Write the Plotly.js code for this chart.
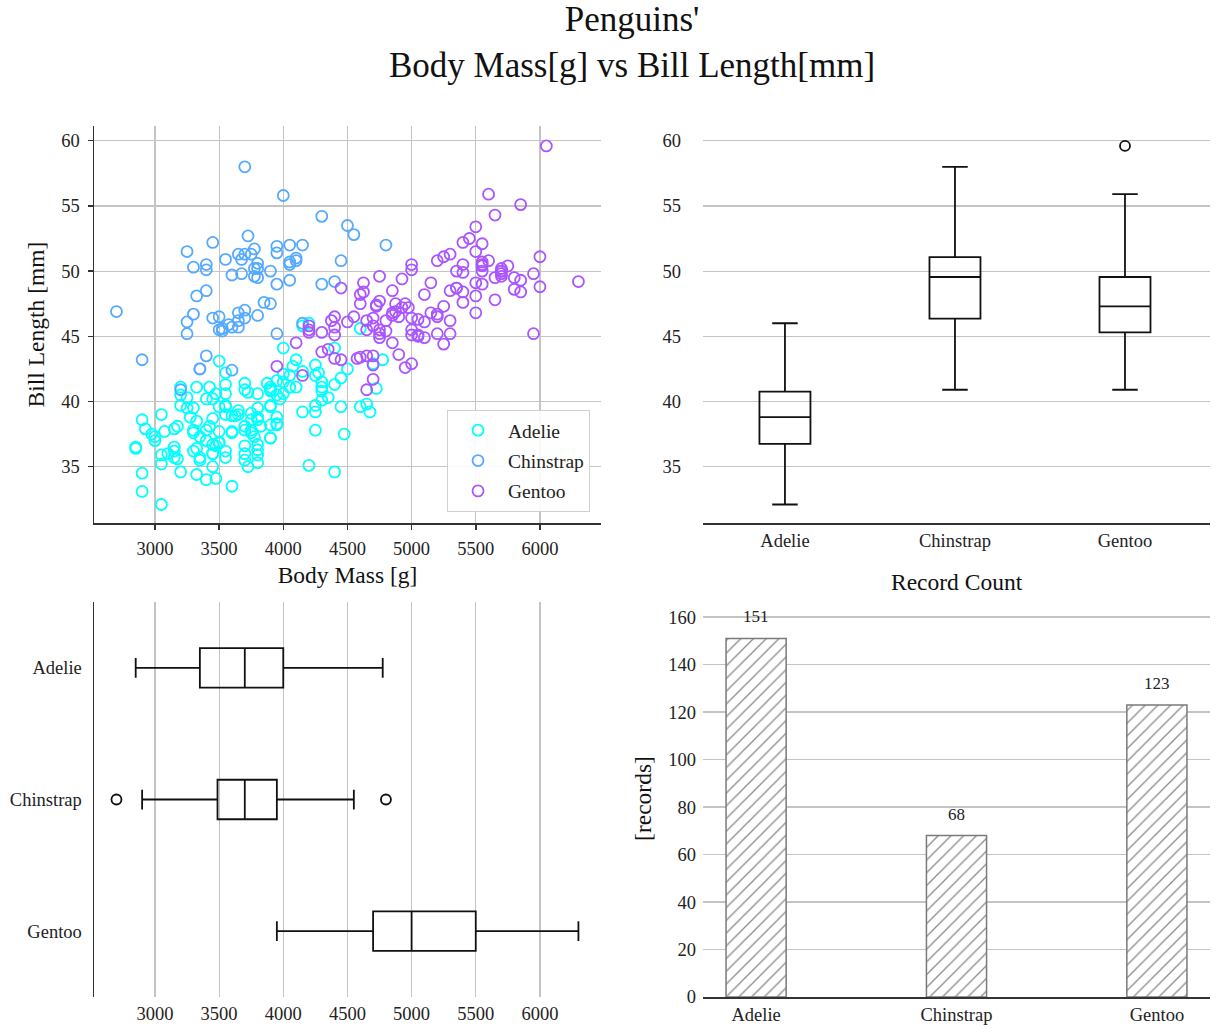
<!DOCTYPE html>
<html>
<head>
<meta charset="utf-8">
<script src="https://cdn.plot.ly/plotly-3.0.1.min.js"></script>
<style>html,body{margin:0;padding:0;background:#fff;}#chart{width:1216px;height:1032px;}</style>
</head>
<body>
<div id="chart"></div>
<script>
// ---------- DATA ----------
const species = ['Adelie', 'Chinstrap', 'Gentoo'];

const adelieMass = [3750,3800,3250,3450,3650,3625,4675,3475,4250,3300,3700,3200,3800,4400,3700,3450,4500,3325,4200,3400,
  3600,3800,3950,3800,3800,3550,3200,3150,3950,3250,3900,3300,3900,3325,4150,3950,3550,3300,4650,3150,
  3900,3100,4400,3000,4600,3425,2975,3450,4150,3500,4300,3450,4050,2900,3700,3550,3800,2850,3750,3150,
  4400,3600,4050,2850,3950,3350,4100,3050,4450,3600,3900,3550,4150,3700,4250,3700,3900,3550,4000,3200,
  4700,3800,4200,3350,3550,3800,3500,3950,3600,3550,4300,3400,4450,3300,4300,3700,4350,2900,4100,3725,
  4725,3075,4250,2925,3550,3750,3900,3175,4775,3825,4600,3200,4275,3900,4075,2900,3775,3350,3325,3150,
  3500,3450,3875,3050,4000,3275,4300,3050,4000,3325,3500,3500,4475,3425,3900,3175,3975,3400,4250,3400,
  3475,3050,3725,3000,3650,4250,3475,3450,3750,3700,4000];
const adelieBill = [39.1,39.5,40.3,36.7,39.3,38.9,39.2,34.1,42.0,37.8,37.8,41.1,38.6,34.6,36.6,38.7,42.5,34.4,46.0,37.8,
  37.7,35.9,38.2,38.8,35.3,40.6,40.5,37.9,40.5,39.5,37.2,39.5,40.9,36.4,39.2,38.8,42.2,37.6,39.8,36.5,
  40.8,36.0,44.1,37.0,39.6,41.1,37.5,36.0,42.3,39.6,40.1,35.0,42.0,34.5,41.4,39.0,40.6,36.5,37.6,35.7,
  41.3,37.6,41.1,36.4,41.6,35.5,41.1,35.9,41.8,33.5,39.7,39.6,45.8,35.5,42.8,40.9,37.2,36.2,42.1,34.6,
  42.9,36.7,35.1,37.3,41.3,36.3,36.9,38.3,38.9,35.7,41.1,34.0,39.6,36.2,40.8,38.1,40.3,33.1,43.2,35.0,
  41.0,37.7,37.8,37.9,39.7,38.6,38.2,38.1,43.2,38.1,45.6,39.7,42.2,39.6,42.7,38.6,37.3,35.7,41.1,36.2,
  37.7,40.2,41.4,35.2,40.6,38.8,41.5,39.0,44.1,38.5,43.1,36.8,37.5,38.1,41.1,35.6,40.2,37.0,39.7,40.2,
  40.6,32.1,40.7,37.3,39.0,39.2,36.6,36.0,37.8,36.0,41.5];

const chinstrapMass = [3500,3900,3650,3525,3725,3950,3250,3750,4150,3700,3800,3775,3700,4050,3575,4050,3300,3700,3450,4400,
  3600,3400,2900,3800,3300,4150,3400,3800,3700,4550,3200,4300,3350,4100,3600,3900,3850,4800,2700,4500,
  3950,3650,3550,3500,3675,4450,3400,4300,3250,3675,3325,3950,3600,4050,3350,3450,3250,4050,3800,3525,
  3950,3650,3650,4000,3400,3775,4100,3775];
const chinstrapBill = [46.5,50.0,51.3,45.4,52.7,45.2,46.1,51.3,46.0,51.3,46.6,51.7,47.0,52.0,45.9,50.5,50.3,58.0,46.4,49.2,
  42.4,48.5,43.2,50.6,46.7,52.0,50.5,49.5,46.4,52.8,40.9,54.2,42.5,51.0,49.7,47.5,47.6,52.0,46.9,53.5,
  49.0,46.2,50.9,45.5,50.9,50.8,50.1,49.0,51.5,49.8,48.1,51.4,45.7,50.7,42.5,52.2,45.2,49.3,50.2,45.6,
  51.9,46.8,45.7,55.8,43.5,49.6,50.8,50.2];

const gentooMass = [4500,5700,4450,5700,5400,4550,4800,5200,4400,5150,4650,5550,4650,5850,4200,5850,4150,6300,4800,5350,
  5700,5000,4400,5050,5000,5100,4100,5650,4600,5550,5250,4700,5050,6050,5150,5400,4950,5250,4350,5350,
  3950,5700,4300,4750,5550,4900,4200,5400,5100,5300,4850,5300,4400,5000,4900,5050,4300,5000,4450,5550,
  4200,5300,4400,5650,4700,5700,4650,5800,4700,5550,4750,5000,5100,5200,4700,5800,4600,6000,4750,5950,
  4625,5450,4725,5350,4750,5600,4600,5300,4875,5550,4950,5400,4750,5650,4850,5200,4925,4875,4625,5250,
  4850,5600,4975,5500,4725,5500,4700,5500,4575,5500,5000,5950,4650,5500,4375,5850,6000,4925,4850,5750,
  5200,5400];
const gentooBill = [46.1,50.0,48.7,50.0,47.6,46.5,45.4,46.7,43.3,46.8,40.9,49.0,45.5,48.4,45.8,49.3,42.0,49.2,46.2,48.7,
  50.2,45.1,46.5,46.3,42.9,46.1,44.5,47.8,48.2,50.0,47.3,42.8,45.1,59.6,49.1,48.4,42.6,44.4,44.0,48.7,
  42.7,49.6,45.3,49.6,50.5,43.6,45.5,50.5,44.9,45.2,46.6,48.5,45.1,50.1,46.5,45.0,43.8,45.5,43.2,50.4,
  45.3,46.2,45.7,54.3,45.8,49.8,46.2,49.5,43.5,50.7,47.7,46.4,48.2,46.5,46.4,48.6,47.5,51.1,45.2,45.2,
  49.1,52.5,47.4,50.0,44.9,50.8,43.4,51.3,47.5,52.1,47.5,52.2,45.5,49.5,44.5,50.8,49.4,46.9,48.4,51.1,
  48.5,55.9,47.2,49.1,47.3,46.8,41.7,53.4,43.3,48.1,50.5,49.8,43.5,51.5,46.2,55.1,48.8,47.2,46.8,50.4,
  45.2,49.9];

// Bill length box statistics (top right)
const billLow = [32.1, 40.9, 40.9];
const billQ1 = [36.75, 46.35, 45.3];
const billMedian = [38.8, 49.55, 47.3];
const billQ3 = [40.75, 51.08, 49.55];
const billHigh = [46.0, 58.0, 55.9];
const billOutlierSpecies = ['Gentoo'];
const billOutliers = [59.6];

// Body mass box statistics (bottom left)
const massLow = [2850, 2900, 3950];
const massQ1 = [3350, 3487.5, 4700];
const massMedian = [3700, 3700, 5000];
const massQ3 = [4000, 3950, 5500];
const massHigh = [4775, 4550, 6300];
const massOutlierSpecies = ['Chinstrap', 'Chinstrap'];
const massOutliers = [2700, 4800];

// Record counts (bottom right)
const recordCounts = [151, 68, 123];

const massTicks = [3000, 3500, 4000, 4500, 5000, 5500, 6000];
const billTicks = [35, 40, 45, 50, 55, 60];
const countTicks = [0, 20, 40, 60, 80, 100, 120, 140, 160];

// ---------- STYLE ----------
const W = 1216, H = 1032;
const FONT = '"Liberation Serif", "Times New Roman", serif';
const colors = {Adelie: '#00ffff', Chinstrap: '#55aaff', Gentoo: '#aa55ff'};
const gridC = '#c4c4c4';
const spineC = '#333333';
const hx = (a, b) => [a / W, b / W];
const vy = (top, bottom) => [1 - bottom / H, 1 - top / H];

function scat(name, xs, ys) {
  return {
    type: 'scatter', mode: 'markers', name: name, x: xs, y: ys,
    xaxis: 'x', yaxis: 'y', legendgroup: name,
    marker: {symbol: 'circle-open', size: 11, color: colors[name], line: {width: 1.8, color: colors[name]}},
    hoverinfo: 'skip'
  };
}

const boxLine = {color: '#111', width: 1.8};

const traces = [
  scat('Adelie', adelieMass, adelieBill),
  scat('Chinstrap', chinstrapMass, chinstrapBill),
  scat('Gentoo', gentooMass, gentooBill),
  {
    type: 'box', x: species, q1: billQ1, median: billMedian, q3: billQ3,
    lowerfence: billLow, upperfence: billHigh, boxpoints: false,
    width: 0.3, whiskerwidth: 0.5, line: boxLine, fillcolor: 'rgba(255,255,255,0)',
    xaxis: 'x2', yaxis: 'y2', showlegend: false, hoverinfo: 'skip'
  },
  {
    type: 'scatter', mode: 'markers', x: billOutlierSpecies, y: billOutliers,
    xaxis: 'x2', yaxis: 'y2', showlegend: false, hoverinfo: 'skip',
    marker: {symbol: 'circle-open', size: 10, color: '#111', line: {width: 1.8, color: '#111'}}
  },
  {
    type: 'box', orientation: 'h', y: species, q1: massQ1, median: massMedian, q3: massQ3,
    lowerfence: massLow, upperfence: massHigh, boxpoints: false,
    width: 0.3, whiskerwidth: 0.5, line: boxLine, fillcolor: 'rgba(255,255,255,0)',
    xaxis: 'x3', yaxis: 'y3', showlegend: false, hoverinfo: 'skip'
  },
  {
    type: 'scatter', mode: 'markers', x: massOutliers, y: massOutlierSpecies,
    xaxis: 'x3', yaxis: 'y3', showlegend: false, hoverinfo: 'skip',
    marker: {symbol: 'circle-open', size: 10, color: '#111', line: {width: 1.8, color: '#111'}}
  },
  {
    type: 'bar', x: species, y: recordCounts, width: 0.3,
    xaxis: 'x4', yaxis: 'y4', showlegend: false, hoverinfo: 'skip',
    marker: {color: 'white', line: {color: '#7a7a7a', width: 1.5},
      pattern: {shape: '/', fgcolor: '#8a8a8a', bgcolor: 'white', size: 9, solidity: 0.14}}
  }
];

const tickFont = {family: FONT, size: 18.5, color: '#222'};
const titleFont = {family: FONT, size: 23.5, color: '#111'};

const barLabels = species.map((s, i) => ({
  x: s, y: recordCounts[i], xref: 'x4', yref: 'y4', text: String(recordCounts[i]),
  showarrow: false, yanchor: 'bottom', yshift: 10, font: {family: FONT, size: 17, color: '#222'}
}));

const layout = {
  width: W, height: H,
  margin: {l: 0, r: 0, t: 0, b: 0},
  paper_bgcolor: 'white', plot_bgcolor: 'white',
  font: {family: FONT, color: '#222'},
  title: {
    text: "Penguins'<br>Body Mass[g] vs Bill Length[mm]",
    font: {family: FONT, size: 35, color: '#111'},
    x: 632 / W, xanchor: 'center', xref: 'paper',
    y: 1 - 31 / H, yanchor: 'top', yref: 'container'
  },
  showlegend: true,
  legend: {
    x: 590 / W, xanchor: 'right', y: 1 - 512 / H, yanchor: 'bottom',
    bgcolor: 'rgba(255,255,255,0.9)', bordercolor: '#d0d0d0', borderwidth: 1,
    font: {family: FONT, size: 19.5, color: '#222'}, tracegroupgap: 2, itemwidth: 50
  },
  xaxis: {
    domain: hx(94, 601), anchor: 'y', range: [2525, 6476], tickvals: massTicks,
    showline: true, linecolor: spineC, linewidth: 1.5, ticks: 'outside', ticklen: 5, tickwidth: 1.5,
    tickcolor: spineC, showgrid: true, gridcolor: gridC, gridwidth: 1.2, zeroline: false,
    tickfont: tickFont, ticklabelstandoff: 3,
    title: {text: 'Body Mass [g]', font: titleFont, standoff: 9}
  },
  yaxis: {
    domain: vy(126, 523), anchor: 'x', range: [30.68, 61.13], tickvals: billTicks,
    showline: true, linecolor: spineC, linewidth: 1.5, ticks: 'outside', ticklen: 5, tickwidth: 1.5,
    tickcolor: spineC, showgrid: true, gridcolor: gridC, gridwidth: 1.2, zeroline: false,
    tickfont: tickFont, ticklabelstandoff: 4,
    title: {text: 'Bill Length [mm]', font: titleFont, standoff: 10}
  },
  xaxis2: {
    domain: hx(703, 1210), anchor: 'y2', type: 'category', categoryarray: species,
    range: [-0.482, 2.5], showline: true, linecolor: spineC, linewidth: 1.5, ticks: '',
    showgrid: false, zeroline: false, tickfont: tickFont, ticklabelstandoff: 0
  },
  yaxis2: {
    domain: vy(126, 523), anchor: 'x2', range: [30.68, 61.13], tickvals: billTicks,
    showline: false, ticks: '', showgrid: true, gridcolor: gridC, gridwidth: 1.2, zeroline: false,
    tickfont: tickFont, ticklabelstandoff: 21
  },
  xaxis3: {
    domain: hx(94, 601), anchor: 'y3', range: [2525, 6476], tickvals: massTicks,
    showline: false, ticks: '', showgrid: true, gridcolor: gridC, gridwidth: 1.2, zeroline: false,
    tickfont: tickFont, ticklabelstandoff: 3
  },
  yaxis3: {
    domain: vy(602, 997), anchor: 'x3', type: 'category', categoryarray: species,
    range: [2.5, -0.5], showline: true, linecolor: spineC, linewidth: 1.5, ticks: '',
    showgrid: false, zeroline: false, tickfont: tickFont, ticklabelstandoff: 7
  },
  xaxis4: {
    domain: hx(703, 1210), anchor: 'y4', type: 'category', categoryarray: species,
    range: [-0.265, 2.265], showline: true, linecolor: spineC, linewidth: 1.5, ticks: '',
    showgrid: false, zeroline: false, tickfont: tickFont, ticklabelstandoff: 0
  },
  yaxis4: {
    domain: vy(600, 997), anchor: 'x4', range: [0, 167.2], tickvals: countTicks,
    showline: false, ticks: '', showgrid: true, gridcolor: gridC, gridwidth: 1.2, zeroline: false,
    tickfont: tickFont, ticklabelstandoff: 6,
    title: {text: '[records]', font: titleFont, standoff: 10}
  },
  annotations: [
    {text: 'Record Count', x: (703 + 1210) / 2 / W, y: 1 - 582 / H, xref: 'paper', yref: 'paper',
     showarrow: false, xanchor: 'center', yanchor: 'middle', font: titleFont}
  ].concat(barLabels)
};

Plotly.newPlot('chart', traces, layout, {staticPlot: true, displayModeBar: false});
</script>
</body>
</html>
